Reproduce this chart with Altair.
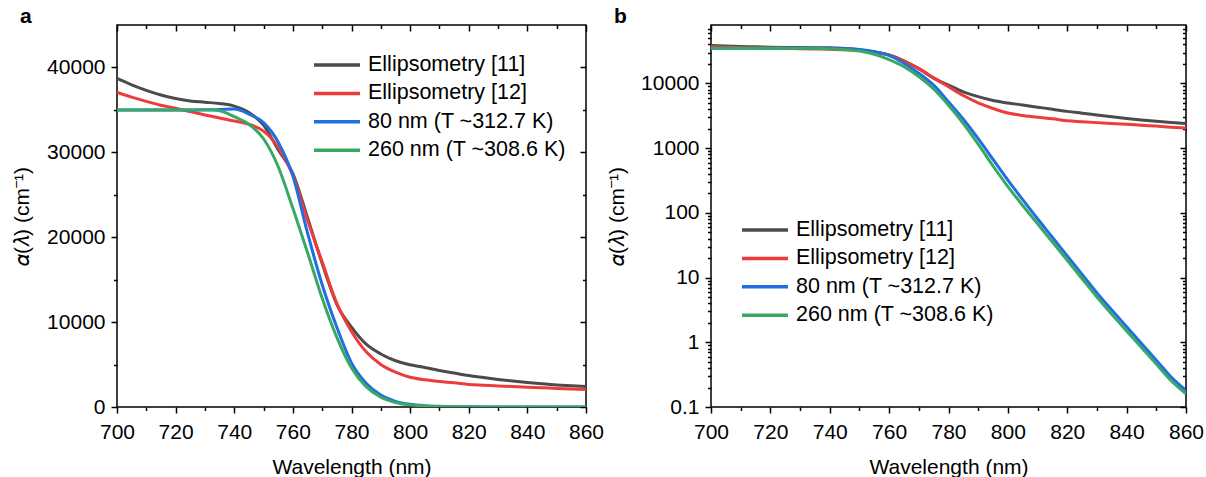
import altair as alt
import pandas as pd

# ---------------- data ----------------
wavelength = [700, 705, 710, 715, 720, 725, 730, 735, 740, 745, 750, 755, 760, 765,
              770, 775, 780, 785, 790, 795, 800, 805, 810, 815, 820, 825, 830, 835,
              840, 845, 850, 855, 860]

ellipsometry_11 = [38700, 37950, 37300, 36750, 36350, 36050, 35900, 35750, 35450, 34700,
                   33200, 30300, 27500, 22300, 16900, 12100, 9400, 7400, 6250, 5450,
                   4980, 4650, 4300, 4000, 3700, 3470, 3250, 3050, 2880, 2730, 2600,
                   2490, 2400]

ellipsometry_12 = [37050, 36500, 36000, 35550, 35200, 34800, 34400, 34050, 33700, 33300,
                   32500, 30600, 27300, 22000, 17100, 12200, 8900, 6500, 5000, 4100,
                   3500, 3200, 3000, 2850, 2650, 2560, 2480, 2410, 2340, 2260, 2190,
                   2110, 2050]

film_80nm = [35000, 35000, 35000, 35000, 35000, 35000, 35000, 35050, 35100, 34500,
             33500, 31200, 27200, 20500, 14400, 9400, 5200, 2800, 1400, 670,
             320, 160, 81, 42, 21.6, 11.2, 5.8, 3.15, 1.74, 0.96, 0.53, 0.29, 0.18]

film_260nm = [35000, 35000, 35000, 35000, 35000, 35000, 35050, 34900, 34200, 33300,
              31600, 28300, 23400, 18200, 12800, 8200, 4600, 2400, 1150, 530,
              255, 130, 68, 35.5, 18.5, 9.6, 5.0, 2.7, 1.5, 0.83, 0.46, 0.255, 0.16]

series_names = ["Ellipsometry [11]", "Ellipsometry [12]",
                "80 nm (T ~312.7 K)", "260 nm (T ~308.6 K)"]
series_colors = ["#4b4b4b", "#ee3b3b", "#1f6fe0", "#38a862"]

x_major = [700, 720, 740, 760, 780, 800, 820, 840, 860]
x_minor = [710, 730, 750, 770, 790, 810, 830, 850]
ya_major = [0, 10000, 20000, 30000, 40000]
ya_minor = [5000, 15000, 25000, 35000]
yb_major = [0.1, 1, 10, 100, 1000, 10000]
yb_minor = [0.2, 0.3, 0.4, 0.5, 0.6, 0.7, 0.8, 0.9,
            2, 3, 4, 5, 6, 7, 8, 9,
            20, 30, 40, 50, 60, 70, 80, 90,
            200, 300, 400, 500, 600, 700, 800, 900,
            2000, 3000, 4000, 5000, 6000, 7000, 8000, 9000,
            20000, 30000, 40000, 50000, 60000, 70000]

rows = []
for name, vals in zip(series_names, [ellipsometry_11, ellipsometry_12, film_80nm, film_260nm]):
    for w, v in zip(wavelength, vals):
        rows.append({"wl": w, "val": v, "series": name})
df = pd.DataFrame(rows)

FONT = "Liberation Sans"
FS = 21
MAJ = 6
MIN = 3.5
Y_TITLE = "𝛼(𝜆) (cm⁻¹)"


def panel(yscale, ymaj, ymin, label_expr, leg_x, leg_y, width, letter, ytitle_pad):
    xs = alt.Scale(domain=[700, 860], nice=False, zero=False)
    base = alt.Chart(df)

    main = base.mark_line(strokeWidth=3, interpolate="monotone", clip=True).encode(
        x=alt.X("wl:Q", scale=xs,
                axis=alt.Axis(values=x_major, format="d", orient="bottom",
                              tickSize=MAJ, labelPadding=8, labelFlush=False,
                              domain=False, grid=False,
                              title="Wavelength (nm)", titlePadding=14)),
        y=alt.Y("val:Q", scale=yscale,
                axis=alt.Axis(values=ymaj, orient="left", labelExpr=label_expr,
                              tickSize=MAJ, labelPadding=6, labelFlush=False,
                              domain=False, grid=False,
                              title=Y_TITLE, titlePadding=ytitle_pad)),
        color=alt.Color("series:N",
                        scale=alt.Scale(domain=series_names, range=series_colors),
                        legend=alt.Legend(title=None, orient="none", legendX=leg_x,
                                          legendY=leg_y, symbolType="M-2.3,0H2.3",
                                          symbolSize=400, symbolStrokeWidth=3.5,
                                          labelFontSize=21.5, labelFont=FONT,
                                          labelColor="black", labelOffset=19,
                                          rowPadding=5.4, padding=0, labelLimit=400)),
    )

    def ax_layer(xv, yv, ox, oy, size, off):
        return base.mark_point(opacity=0).encode(
            x=alt.X("wl:Q", scale=xs,
                    axis=alt.Axis(values=xv, orient=ox, tickSize=size, offset=off,
                                  labels=False, domain=False, grid=False, title=None)),
            y=alt.Y("val:Q", scale=yscale,
                    axis=alt.Axis(values=yv, orient=oy, tickSize=size, offset=off,
                                  labels=False, domain=False, grid=False, title=None)),
        )

    layers = [
        main,
        ax_layer(x_minor, ymin, "bottom", "left", MIN, 0),
        ax_layer(x_major, ymaj, "top", "right", MAJ, -MAJ),
        ax_layer(x_minor, ymin, "top", "right", MIN, -MIN),
    ]
    return alt.layer(*layers).resolve_axis(x="independent", y="independent").properties(
        width=width, height=382,
        title=alt.TitleParams(letter, anchor="start", frame="group", dx=-97,
                              fontSize=21, fontWeight="bold", font=FONT, offset=-3,
                              color="black"),
    )


panel_a = panel(alt.Scale(domain=[0, 45000], nice=False, zero=False),
                ya_major, ya_minor, "format(datum.value, 'd')",
                208, 28, 469, "a", 14)
panel_b = panel(alt.Scale(type="log", domain=[0.1, 80000], nice=False),
                yb_major, yb_minor,
                "datum.value < 1 ? format(datum.value, '.1f') : format(datum.value, 'd')",
                42, 193, 475, "b", 13)

chart = alt.hconcat(panel_a, panel_b, spacing=0).resolve_legend(
    color="independent"
).properties(
    padding={"left": 10, "top": 5, "right": 0, "bottom": 0},
    background="white",
).configure_axis(
    labelFont=FONT, labelFontSize=FS, labelColor="black",
    titleFont=FONT, titleFontSize=FS, titleColor="black", titleFontWeight="normal",
    tickColor="black", tickWidth=1.5,
).configure_view(
    stroke="black", strokeWidth=1.5,
)

chart.save("out.html", embed_options={"renderer": "svg", "actions": False})
